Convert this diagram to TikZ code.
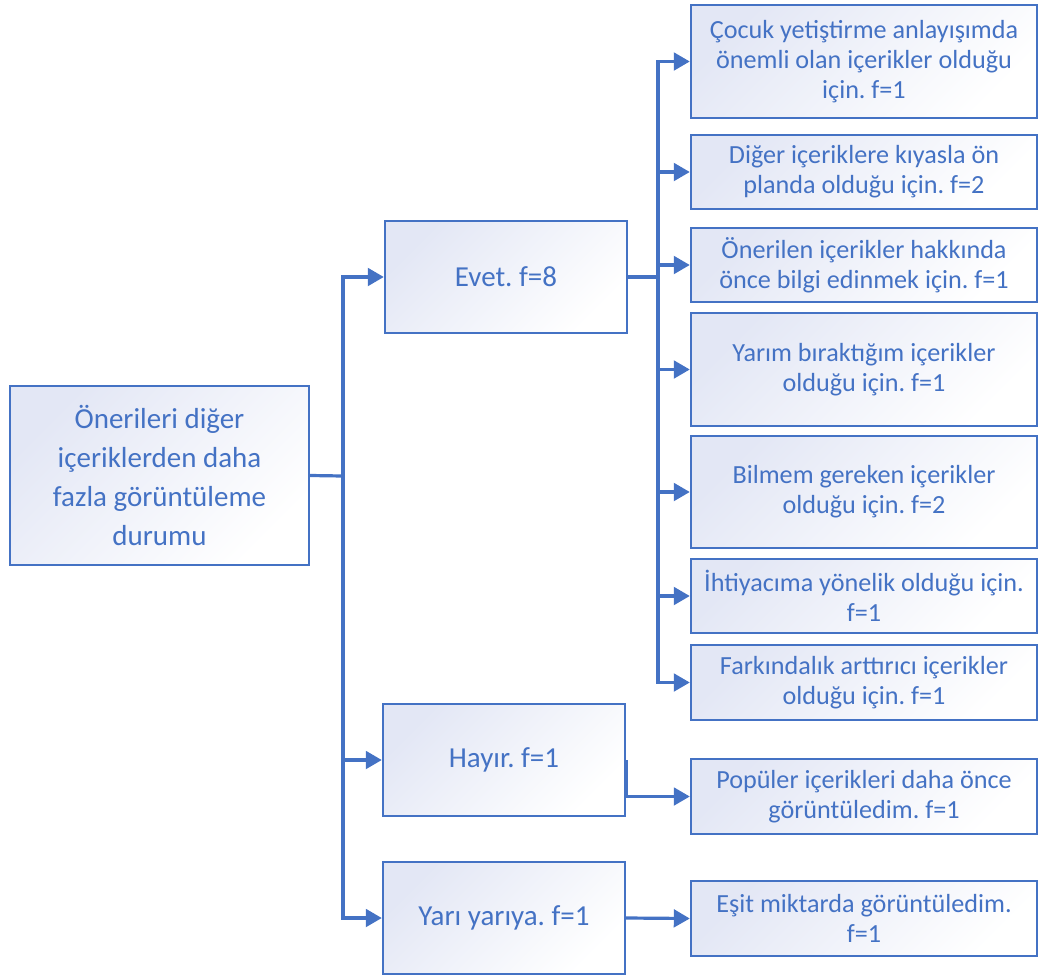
\documentclass[tikz,border=0pt]{standalone}
\usepackage{fontspec}
\setmainfont{Carlito}
\usetikzlibrary{arrows.meta}
\definecolor{smartblue}{HTML}{4472C4}
\definecolor{boxshade}{HTML}{E3E7F5}
\newlength\unitpx
\setlength{\unitpx}{0.025cm}
\frenchspacing
\begin{document}
\begin{tikzpicture}[
  x=0.025cm, y=-0.025cm,
  box/.style={draw=smartblue,line width=2.4\unitpx,text=smartblue,align=center,
    top color=boxshade,bottom color=white,shading angle=45,inner sep=2pt},
  bigtext/.style={font=\fontsize{20.6}{27.7}\selectfont},
  smalltext/.style={font=\fontsize{18.6}{21.3}\selectfont},
  link/.style={draw=smartblue,line width=3.2\unitpx},
  arr/.style={link,-{Triangle[length=4mm,width=4.4mm]}}
]
  \useasboundingbox (0,0) rectangle (1039,974);

  \node[box,bigtext,minimum width=299\unitpx,minimum height=179\unitpx] (root) at (159.5,475.5)
    {Önerileri diğer\\içeriklerden daha\\fazla görüntüleme\\durumu};

  \node[box,bigtext,minimum width=242\unitpx,minimum height=112\unitpx] (evet) at (506,277) {Evet. f=8};
  \node[box,bigtext,minimum width=242\unitpx,minimum height=112\unitpx] (hayir) at (504,760) {Hayır. f=1};
  \node[box,bigtext,minimum width=242\unitpx,minimum height=112\unitpx] (yari) at (504,918) {Yarı yarıya. f=1};

  % reasons for "Evet"
  \node[box,smalltext,minimum width=346\unitpx,minimum height=113\unitpx] (r1) at (864,61.5)
    {Çocuk yetiştirme anlayışımda\\önemli olan içerikler olduğu\\için. f=1};
  \node[box,smalltext,minimum width=346\unitpx,minimum height=74\unitpx] (r2) at (864,172)
    {Diğer içeriklere kıyasla ön\\planda olduğu için. f=2};
  \node[box,smalltext,minimum width=346\unitpx,minimum height=74\unitpx] (r3) at (864,265)
    {Önerilen içerikler hakkında\\önce bilgi edinmek için. f=1};
  \node[box,smalltext,minimum width=346\unitpx,minimum height=113\unitpx] (r4) at (864,369.5)
    {Yarım bıraktığım içerikler\\olduğu için. f=1};
  \node[box,smalltext,minimum width=346\unitpx,minimum height=112\unitpx] (r5) at (864,492)
    {Bilmem gereken içerikler\\olduğu için. f=2};
  \node[box,smalltext,minimum width=346\unitpx,minimum height=74\unitpx] (r6) at (864,596)
    {İhtiyacıma yönelik olduğu için.\\f=1};
  \node[box,smalltext,minimum width=346\unitpx,minimum height=75\unitpx] (r7) at (864,682.5)
    {Farkındalık arttırıcı içerikler\\olduğu için. f=1};

  \node[box,smalltext,minimum width=346\unitpx,minimum height=75\unitpx] (pop) at (864,796.5)
    {Popüler içerikleri daha önce\\görüntüledim. f=1};
  \node[box,smalltext,minimum width=346\unitpx,minimum height=75\unitpx] (esit) at (864,918.5)
    {Eşit miktarda görüntüledim.\\f=1};

  \coordinate (t1) at (343,476);
  \coordinate (t2) at (658,277);

  \draw[link] (root.east) -- (t1);
  \draw[arr] (t1) |- (evet.west);
  \draw[arr] (t1) |- (hayir.west);
  \draw[arr] (t1) |- (yari.west);

  \draw[link] (evet.east) -- (t2);
  \draw[arr] (t2) |- (r1.west);
  \draw[arr] (t2) |- (r2.west);
  \draw[arr] (t2) |- (r3.west);
  \draw[arr] (t2) |- (r4.west);
  \draw[arr] (t2) |- (r5.west);
  \draw[arr] (t2) |- (r6.west);
  \draw[arr] (t2) |- (r7.west);

  \draw[arr] (hayir.east) |- (pop.west);
  \draw[arr] (yari.east) -- (esit.west);
\end{tikzpicture}
\end{document}
